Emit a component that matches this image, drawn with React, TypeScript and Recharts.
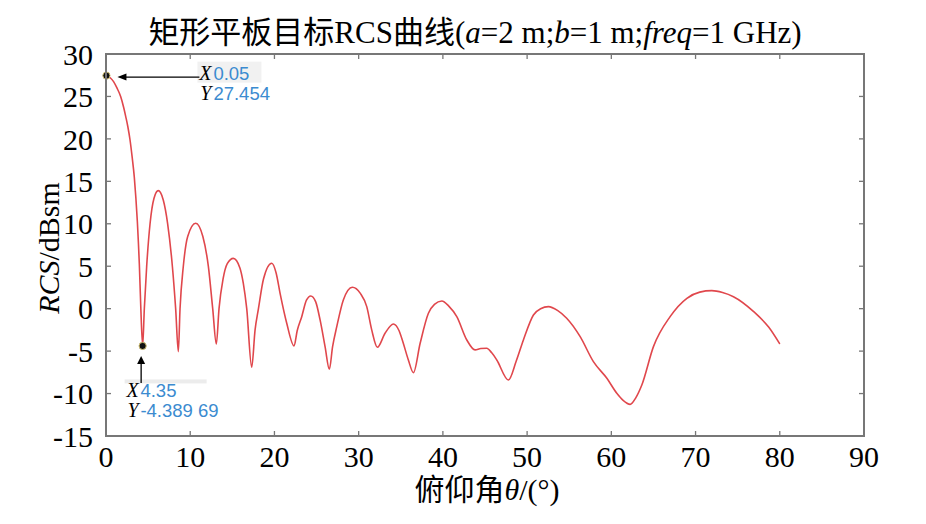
import React from "react";
import { LineChart, Line, XAxis, YAxis, ReferenceDot } from "recharts";

const angles = [
  0.05, 0.5, 0.9, 1.3, 1.74, 2.1, 2.35, 2.6, 2.85, 3.1, 3.36, 3.55, 3.72, 3.85, 3.96, 4.12, 4.35,
  4.55, 4.83, 5.23, 5.7, 6.2, 6.8, 7.32, 7.88, 8.27, 8.59,
  8.79, 9.18, 9.7, 10.65, 11.5, 12.15, 12.67, 13.1,
  13.42, 13.9, 14.4, 15.12, 15.9, 16.3, 16.71, 17.3,
  17.7, 18.1, 18.7, 19.68, 20.2, 20.67, 21.46, 22.33,
  22.7, 23.24, 23.8, 24.31, 24.9, 25.42, 26.01, 26.52,
  26.9, 27.4, 28.18, 29.25, 30.2, 30.96, 31.55, 32.22,
  33.13, 34.12, 34.8, 35.3, 35.9, 36.5,
  37.3, 38.28, 39.0, 39.87, 40.7, 41.65, 42.84, 43.82, 44.5, 45.2, 45.8, 46.4, 47.78,
  48.7, 49.56, 50.75, 51.6, 52.53, 53.6, 54.7, 56.3, 57.87, 59.47, 60.65, 61.4, 62.23,
  62.9, 63.62, 65.0, 66.98, 68.97, 70.5, 71.93, 73.2, 74.5, 76.9, 78.7, 80,
];

const rcsValues = [
  27.454, 27.2, 26.75, 26.0, 25, 23.7, 22.6, 21.4, 19.9, 17.9, 15.5, 13.0, 10.3, 7.7, 5.2, 0.5, -4.38969,
  0, 5, 10, 13, 13.9, 12.8, 10, 5, 0, -5.06,
  0, 5, 8.5, 10.06, 8.5, 5, 0, -4.16,
  0, 3.5, 5.3, 5.93, 4.8, 3, 0, -6.9,
  -2.5, 0, 3.5, 5.35, 4.2, 1.8, -1.72, -4.39,
  -2.6, -0.94, 1, 1.5, 0.8, -1.33, -4.47, -7.14,
  -4.5, -2.12, 1.02, 2.52, 1.8, 0.24, -2.5, -4.55,
  -2.9, -1.8, -2.6, -4.08, -6.04, -7.54,
  -4.08, -0.54, 0.5, 0.9, 0.3, -0.94, -3.69, -4.86, -4.7, -4.67, -5.2, -6.04, -8.4,
  -6.2, -3.69, -0.74, 0, 0.24, -0.2, -1.13, -3.3, -6.24, -8.2, -9.97, -10.8, -11.27,
  -10.5, -8.99, -4.47, -0.94, 1.22, 1.95, 2.12, 1.9, 1.41, -0.35, -2.2, -4.16,
];

const xTicks = [0, 10, 20, 30, 40, 50, 60, 70, 80, 90];
const yTicks = [-15, -10, -5, 0, 5, 10, 15, 20, 25, 30];
const xDomain = [0, 90];
const yDomain = [-15, 30];

const markerA = { x: 0.05, y: 27.454, xText: "0.05", yText: "27.454" };
const markerB = { x: 4.35, y: -4.38969, xText: "4.35", yText: "-4.389 69" };

const data = angles.map((a, i) => ({ angle: a, rcs: rcsValues[i] }));

const SERIF = "'Liberation Serif', 'Times New Roman', serif";
const CJK = "'Liberation Serif', 'Noto Sans CJK SC', serif";
const SANS = "'Liberation Sans', Arial, sans-serif";
const BLUE = "#3b8bd0";
const GRAY = "#777777";
const FRAME_W = 2;
const TICK_LEN = 5;

const W = 918;
const H = 516;
const M_TOP = 46;
const M_RIGHT = 62;
const AX_LEFT = 98;
const AX_BOTTOM = 88;

const tickStyle = { fontSize: 30, fill: "#000", fontFamily: SERIF };

function MarkerA(props: any) {
  const { cx, cy } = props;
  if (cx == null || cy == null) return null;
  return (
    <g>
      <rect x={cx + 91} y={cy - 14} width={64} height={21} fill="#f1f1f1" />
      <line x1={cx + 93} y1={cy + 1.5} x2={cx + 18} y2={cy + 1.5} stroke="#000" strokeWidth={1.3} />
      <polygon points={`${cx + 11},${cy + 1.5} ${cx + 20},${cy - 2} ${cx + 20},${cy + 5}`} fill="#000" />
      <circle cx={cx} cy={cy} r={3.6} fill="#111" stroke="#cdbb70" strokeWidth={1} />
      <text x={cx + 105} y={cy + 4.5} textAnchor="end" fontFamily={SERIF} fontStyle="italic" fontSize={20} fill="#000">X</text>
      <text x={cx + 107} y={cy + 4.5} fontFamily={SANS} fontSize={18.5} fill={BLUE}>{markerA.xText}</text>
      <text x={cx + 105} y={cy + 24.5} textAnchor="end" fontFamily={SERIF} fontStyle="italic" fontSize={20} fill="#000">Y</text>
      <text x={cx + 107} y={cy + 24.5} fontFamily={SANS} fontSize={18.5} fill={BLUE}>{markerA.yText}</text>
    </g>
  );
}

function MarkerB(props: any) {
  const { cx, cy } = props;
  if (cx == null || cy == null) return null;
  const ax = cx - 1.5;
  return (
    <g>
      <rect x={cx - 18} y={cy + 33.5} width={82} height={4} fill="#ececec" />
      <line x1={ax} y1={cy + 37} x2={ax} y2={cy + 16} stroke="#000" strokeWidth={1.3} />
      <polygon points={`${ax},${cy + 10} ${ax - 4},${cy + 18} ${ax + 4},${cy + 18}`} fill="#000" />
      <circle cx={cx} cy={cy} r={3.6} fill="#111" stroke="#cdbb70" strokeWidth={1} />
      <text x={cx - 4} y={cy + 51.5} textAnchor="end" fontFamily={SERIF} fontStyle="italic" fontSize={20} fill="#000">X</text>
      <text x={cx - 2.2} y={cy + 51.5} fontFamily={SANS} fontSize={18.5} fill={BLUE}>{markerB.xText}</text>
      <text x={cx - 4} y={cy + 71.5} textAnchor="end" fontFamily={SERIF} fontStyle="italic" fontSize={20} fill="#000">Y</text>
      <text x={cx - 2.2} y={cy + 71.5} fontFamily={SANS} fontSize={18.5} fill={BLUE}>{markerB.yText}</text>
    </g>
  );
}

function Frame() {
  const left = AX_LEFT;
  const top = M_TOP;
  const right = W - M_RIGHT;
  const bottom = H - AX_BOTTOM;
  const fx = (v: number) => left + ((v - xDomain[0]) / (xDomain[1] - xDomain[0])) * (right - left);
  const fy = (v: number) => top + ((yDomain[1] - v) / (yDomain[1] - yDomain[0])) * (bottom - top);
  return (
    <g>
      <rect x={left} y={top} width={right - left} height={bottom - top} fill="none" stroke={GRAY} strokeWidth={FRAME_W} />
      {xTicks.map((t) => (
        <line key={`tt${t}`} x1={fx(t)} y1={top} x2={fx(t)} y2={top + TICK_LEN} stroke={GRAY} strokeWidth={1.3} />
      ))}
      {yTicks.map((t) => (
        <line key={`rt${t}`} x1={right - TICK_LEN} y1={fy(t)} x2={right} y2={fy(t)} stroke={GRAY} strokeWidth={1.3} />
      ))}
    </g>
  );
}

export default function App() {
  return (
    <div style={{ position: "relative", width: W, height: H }}>
      <LineChart width={W} height={H} data={data} margin={{ top: M_TOP, right: M_RIGHT, bottom: 0, left: 0 }}>
        <XAxis
          dataKey="angle"
          type="number"
          domain={xDomain}
          ticks={xTicks}
          allowDataOverflow
          height={AX_BOTTOM}
          tickSize={-TICK_LEN}
          tickMargin={15}
          tick={tickStyle}
          axisLine={{ stroke: GRAY, strokeWidth: FRAME_W }}
          tickLine={{ stroke: GRAY, strokeWidth: 1.3 }}
          interval={0}
        />
        <YAxis
          type="number"
          domain={yDomain}
          ticks={yTicks}
          allowDataOverflow
          width={AX_LEFT}
          tickSize={-TICK_LEN}
          tickMargin={18}
          tick={tickStyle}
          axisLine={{ stroke: GRAY, strokeWidth: FRAME_W }}
          tickLine={{ stroke: GRAY, strokeWidth: 1.3 }}
          interval={0}
        />
        <Line
          type="monotone"
          dataKey="rcs"
          stroke="#e0474c"
          strokeWidth={1.6}
          dot={false}
          activeDot={false}
          isAnimationActive={false}
        />
        <ReferenceDot x={markerA.x} y={markerA.y} r={4} ifOverflow="visible" shape={MarkerA} />
        <ReferenceDot x={markerB.x} y={markerB.y} r={4} ifOverflow="visible" shape={MarkerB} />
      </LineChart>
      <svg
        width={W}
        height={H}
        style={{ position: "absolute", left: 0, top: 0, pointerEvents: "none" }}
      >
        <Frame />
        <text x={467} y={35} textAnchor="middle" fontSize={31} fontFamily={CJK} fill="#000">
          矩形平板目标RCS曲线(<tspan fontStyle="italic">a</tspan>=2 m;<tspan fontStyle="italic">b</tspan>=1 m;<tspan fontStyle="italic">freq</tspan>=1 GHz)
        </text>
        <text
          x={40}
          y={240}
          dy="0.35em"
          textAnchor="middle"
          fontSize={30}
          fontFamily={SERIF}
          fill="#000"
          transform="rotate(-90 40 240)"
        >
          <tspan fontStyle="italic">RCS</tspan>/dBsm
        </text>
        <text x={479} y={492} textAnchor="middle" fontSize={30} fontFamily={CJK} fill="#000">
          俯仰角<tspan fontStyle="italic">θ</tspan>/(°)
        </text>
      </svg>
    </div>
  );
}
